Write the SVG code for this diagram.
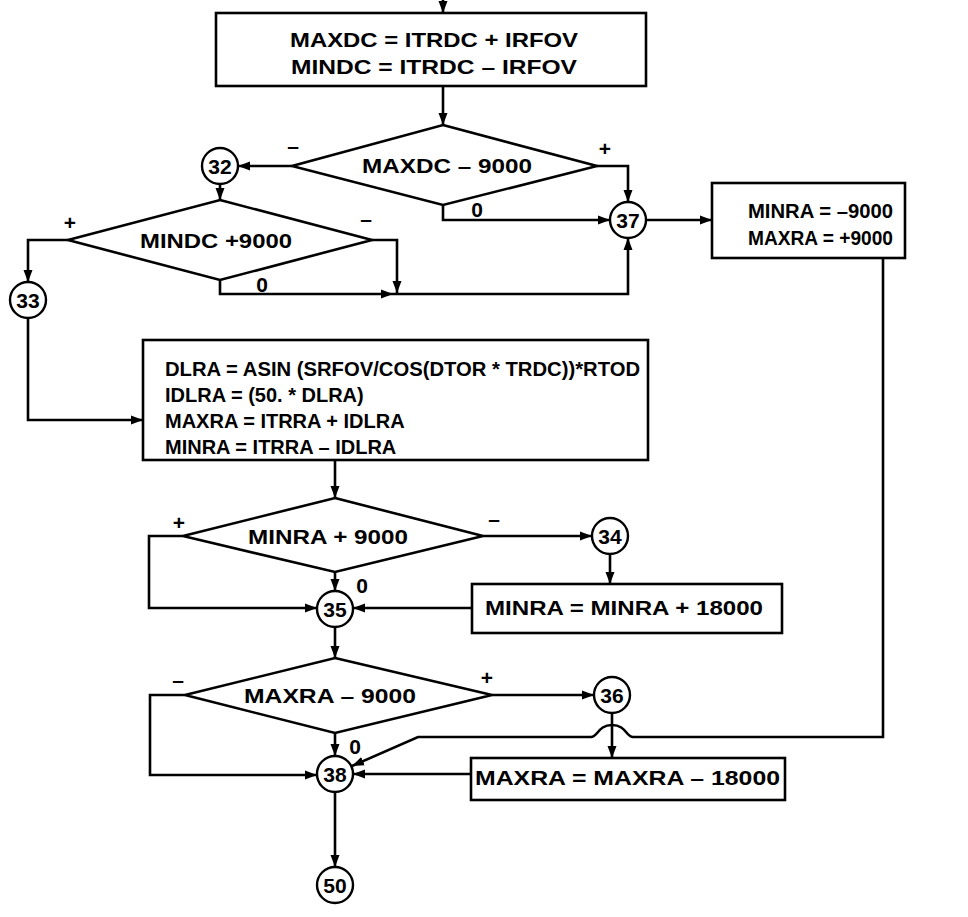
<svg xmlns="http://www.w3.org/2000/svg" width="968" height="917" viewBox="0 0 968 917">
<defs>
<marker id="ah" viewBox="0 0 12 10" refX="12" refY="5" markerWidth="12" markerHeight="10" markerUnits="userSpaceOnUse" orient="auto">
<path d="M0,0.5 L12,5 L0,9.5 z" fill="#000"/>
</marker>
<style>
.ln{fill:none;stroke:#000;stroke-width:2.6;stroke-linejoin:miter}
.ar{fill:none;stroke:#000;stroke-width:2.6;marker-end:url(#ah)}
.bx{fill:#fff;stroke:#000;stroke-width:2.6}
.cc{fill:#fff;stroke:#000;stroke-width:2.4}
.t{font-family:"Liberation Sans",Arial,sans-serif;font-weight:bold;font-size:20px;fill:#000}
.m{text-anchor:middle}
.n{font-family:"Liberation Sans",Arial,sans-serif;font-weight:bold;font-size:21px;fill:#000;text-anchor:middle}
.lb{font-family:"Liberation Sans",Arial,sans-serif;font-weight:bold;font-size:21px;fill:#000;text-anchor:middle}
</style>
</defs>

<g id="connectors">
<path class="ar" d="M443,0 V13"/>
<path class="ar" d="M443,86 V125"/>
<path class="ar" d="M292,166 H238"/>
<path class="ar" d="M220,184 V200"/>
<path class="ar" d="M597,166 H628 V202"/>
<path class="ar" d="M443,205 V220 H610"/>
<path class="ar" d="M68,240 H28 V282"/>
<path class="ar" d="M372,240 H397 V293"/>
<path class="ar" d="M220,280 V294 H393"/>
<path class="ar" d="M393,294 H628 V238"/>
<path class="ar" d="M646,220 H712"/>
<path class="ar" d="M28,318 V420 H143"/>
<path class="ar" d="M335,460 V498"/>
<path class="ar" d="M183,536 H149 V608 H317"/>
<path class="ar" d="M335,572 V591"/>
<path class="ar" d="M483,536 H592"/>
<path class="ar" d="M610,554 V584"/>
<path class="ar" d="M472,608 H353"/>
<path class="ar" d="M335,627 V658"/>
<path class="ar" d="M185,695 H150 V775 H317"/>
<path class="ar" d="M335,733 V756"/>
<path class="ar" d="M492,695 H594"/>
<path class="ar" d="M612,713 V758"/>
<path class="ar" d="M471,774 H353"/>
<path class="ar" d="M335,792 V867"/>
<path class="ar" d="M883,258 V737 H633 C626,737 626,725 612,725 C598,725 598,737 591,737 H418 L352,766"/>
</g>

<g id="box-maxdc">
<rect class="bx" x="216" y="13" width="430" height="73"/>
<text class="t m" x="434" y="47" textLength="288" lengthAdjust="spacingAndGlyphs">MAXDC = ITRDC + IRFOV</text>
<text class="t m" x="434" y="74" textLength="286" lengthAdjust="spacingAndGlyphs">MINDC = ITRDC – IRFOV</text>
</g>

<g id="dec-maxdc">
<polygon class="bx" points="443,125 597,166 443,205 292,166"/>
<text class="t m" x="447" y="173" textLength="170" lengthAdjust="spacingAndGlyphs">MAXDC – 9000</text>
<text class="lb" x="293" y="153">–</text>
<text class="lb" x="605" y="156">+</text>
<text class="lb" x="477" y="217">0</text>
</g>

<g id="c32"><circle class="cc" cx="220" cy="166" r="18"/><text class="n" x="220" y="174">32</text></g>

<g id="dec-mindc">
<polygon class="bx" points="220,200 372,240 220,280 68,240"/>
<text class="t m" x="216" y="248" textLength="152" lengthAdjust="spacingAndGlyphs">MINDC +9000</text>
<text class="lb" x="70" y="230">+</text>
<text class="lb" x="366" y="226">–</text>
<text class="lb" x="262" y="292">0</text>
</g>

<g id="c33"><circle class="cc" cx="28" cy="300" r="18"/><text class="n" x="28" y="308">33</text></g>
<g id="c37"><circle class="cc" cx="628" cy="220" r="18"/><text class="n" x="628" y="228">37</text></g>

<g id="box-minra9000">
<rect class="bx" x="712" y="183" width="193" height="75"/>
<text class="t" x="748" y="218" textLength="145" lengthAdjust="spacingAndGlyphs">MINRA = –9000</text>
<text class="t" x="748" y="245" textLength="145" lengthAdjust="spacingAndGlyphs">MAXRA = +9000</text>
</g>

<g id="box-dlra">
<rect class="bx" x="143" y="340" width="505" height="120"/>
<text class="t" x="165" y="376" textLength="475" lengthAdjust="spacingAndGlyphs">DLRA = ASIN (SRFOV/COS(DTOR * TRDC))*RTOD</text>
<text class="t" x="165" y="402">IDLRA = (50. * DLRA)</text>
<text class="t" x="165" y="428">MAXRA = ITRRA + IDLRA</text>
<text class="t" x="165" y="454">MINRA = ITRRA – IDLRA</text>
</g>

<g id="dec-minra">
<polygon class="bx" points="335,498 483,536 335,572 183,536"/>
<text class="t m" x="328" y="544" textLength="160" lengthAdjust="spacingAndGlyphs">MINRA + 9000</text>
<text class="lb" x="179" y="530">+</text>
<text class="lb" x="494" y="526">–</text>
<text class="lb" x="362" y="593">0</text>
</g>

<g id="c34"><circle class="cc" cx="610" cy="536" r="18"/><text class="n" x="610" y="544">34</text></g>

<g id="box-minra18000">
<rect class="bx" x="472" y="584" width="310" height="49"/>
<text class="t" x="485" y="615" style="font-size:21px" textLength="278" lengthAdjust="spacingAndGlyphs">MINRA = MINRA + 18000</text>
</g>

<g id="c35"><circle class="cc" cx="335" cy="609" r="18"/><text class="n" x="335" y="617">35</text></g>

<g id="dec-maxra">
<polygon class="bx" points="335,658 492,695 335,733 185,695"/>
<text class="t m" x="330" y="703" textLength="172" lengthAdjust="spacingAndGlyphs">MAXRA – 9000</text>
<text class="lb" x="178" y="687">–</text>
<text class="lb" x="487" y="685">+</text>
<text class="lb" x="355" y="754">0</text>
</g>

<g id="c36"><circle class="cc" cx="612" cy="695" r="18"/><text class="n" x="612" y="703">36</text></g>

<g id="box-maxra18000">
<rect class="bx" x="471" y="758" width="314" height="42"/>
<text class="t" x="475" y="785" style="font-size:21px" textLength="305" lengthAdjust="spacingAndGlyphs">MAXRA = MAXRA – 18000</text>
</g>

<g id="c38"><circle class="cc" cx="335" cy="774" r="18"/><text class="n" x="335" y="782">38</text></g>
<g id="c50"><circle class="cc" cx="335" cy="885" r="18"/><text class="n" x="335" y="893">50</text></g>
</svg>
